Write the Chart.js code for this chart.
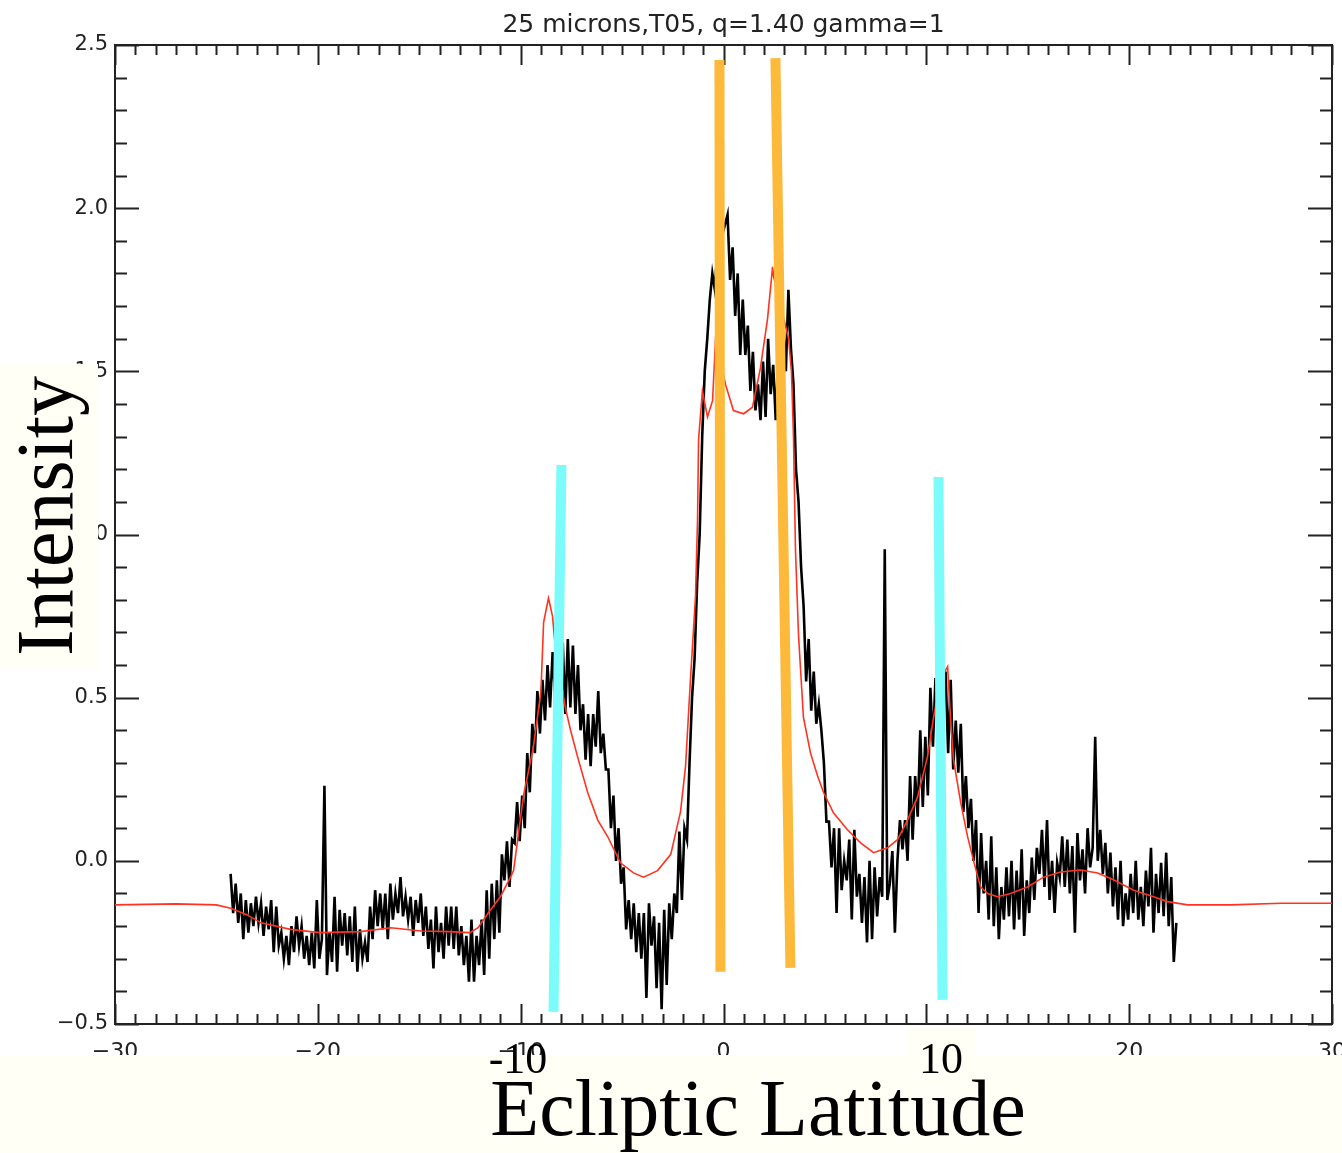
<!DOCTYPE html>
<html>
<head>
<meta charset="utf-8">
<script src="https://cdn.jsdelivr.net/npm/chart.js@4.4.1/dist/chart.umd.min.js"></script>
<style>
  html, body { margin: 0; padding: 0; background: #fff; }
  #wrap { width: 1342px; height: 1153px; }
</style>
</head>
<body>
<div id="wrap"><canvas id="grafico" width="1342" height="1153"></canvas></div>
<script>
// title and axis texts
const plotTitle = '25 microns,T05, q=1.40 gamma=1';
const xTickValues = [-30, -20, -10, 0, 10, 20, 30];
const yTickValues = [-0.5, 0.0, 0.5, 1.0, 1.5, 2.0, 2.5];

// observed profile (black), sampled every 0.125 deg starting at -24.3
const obsStart = -24.3;
const obsStep = 0.125;
const obsValues = [
  -0.04, -0.16, -0.07, -0.19, -0.10, -0.24, -0.12, -0.22, -0.13, -0.20,
  -0.11, -0.19, -0.13, -0.23, -0.14, -0.21, -0.12, -0.28, -0.14, -0.26,
  -0.22, -0.30, -0.23, -0.32, -0.20, -0.28, -0.17, -0.26, -0.20, -0.30,
  -0.23, -0.32, -0.22, -0.33, -0.12, -0.30, -0.24, 0.23, -0.35, -0.22,
  -0.31, -0.11, -0.34, -0.15, -0.26, -0.16, -0.29, -0.17, -0.31, -0.14,
  -0.34, -0.21, -0.30, -0.25, -0.31, -0.14, -0.24, -0.09, -0.20, -0.10,
  -0.21, -0.10, -0.24, -0.07, -0.18, -0.10, -0.16, -0.05, -0.17, -0.11,
  -0.18, -0.11, -0.23, -0.12, -0.19, -0.10, -0.23, -0.14, -0.27, -0.18,
  -0.33, -0.14, -0.28, -0.19, -0.30, -0.14, -0.26, -0.14, -0.27, -0.14,
  -0.29, -0.20, -0.32, -0.23, -0.37, -0.18, -0.37, -0.23, -0.32, -0.18,
  -0.35, -0.09, -0.30, -0.07, -0.24, -0.06, -0.22, 0.02, -0.06, 0.06,
  -0.08, 0.065, 0.055, 0.18, 0.06, 0.20, 0.10, 0.33, 0.21, 0.42,
  0.33, 0.52, 0.39, 0.555, 0.43, 0.60, 0.47, 0.64, 0.50, 0.60,
  0.48, 0.67, 0.45, 0.68, 0.47, 0.66, 0.45, 0.60, 0.40, 0.48,
  0.31, 0.45, 0.29, 0.45, 0.35, 0.52, 0.33, 0.39, 0.28, 0.28,
  0.10, 0.20, 0.00, 0.10, -0.07, -0.02, -0.21, -0.12, -0.24, -0.13,
  -0.28, -0.16, -0.30, -0.16, -0.42, -0.13, -0.26, -0.17, -0.39, -0.19,
  -0.455, -0.15, -0.38, -0.13, -0.24, -0.10, -0.16, 0.09, -0.12, 0.10,
  0.065, 0.30, 0.50, 0.62, 0.85, 1.00, 1.30, 1.50, 1.60, 1.72,
  1.80, 1.75, 1.88, 1.82, 1.92, 1.95, 1.98, 1.78, 1.88, 1.67,
  1.80, 1.55, 1.72, 1.55, 1.64, 1.44, 1.56, 1.38, 1.46, 1.35,
  1.53, 1.36, 1.60, 1.43, 1.52, 1.35, 1.55, 1.45, 1.62, 1.50,
  1.75, 1.57, 1.46, 1.20, 1.10, 0.90, 0.78, 0.55, 0.68, 0.46,
  0.58, 0.42, 0.48, 0.40, 0.30, 0.12, 0.12, -0.02, 0.10, -0.16,
  0.10, -0.09, 0.00, -0.06, 0.065, -0.18, 0.095, -0.11, -0.04, -0.19,
  -0.05, -0.25, 0.00, -0.24, -0.02, -0.17, -0.05, -0.11, 0.955, -0.12,
  -0.07, 0.03, -0.22, 0.00, 0.125, 0.035, 0.125, 0.00, 0.26, 0.065,
  0.26, 0.135, 0.40, 0.165, 0.38, 0.20, 0.53, 0.35, 0.56, 0.45,
  0.60, 0.50, 0.58, 0.33, 0.555, 0.28, 0.43, 0.27, 0.42, 0.15,
  0.26, 0.10, 0.19, 0.00, 0.125, -0.16, 0.085, -0.10, 0.00, -0.18,
  0.075, -0.20, -0.02, -0.24, -0.08, -0.18, -0.02, -0.17, 0.00, -0.21,
  -0.03, -0.18, 0.035, -0.23, -0.06, -0.16, 0.01, -0.12, 0.04, -0.04,
  0.095, -0.08, 0.125, -0.12, 0.00, -0.16, -0.006, -0.05, 0.075, -0.08,
  0.065, -0.10, 0.045, -0.22, 0.085, -0.06, 0.035, -0.10, 0.10, -0.02,
  0.04, 0.38, 0.00, 0.095, -0.04, 0.055, -0.10, 0.025, -0.14, -0.02,
  -0.18, 0.00, -0.20, -0.10, -0.18, -0.04, -0.16, 0.00, -0.18, -0.08,
  -0.20, -0.03, -0.14, 0.04, -0.22, -0.04, -0.16, -0.006, -0.17, 0.025,
  -0.20, -0.05, -0.31, -0.19
];

// model profile (red)
const modelLat = [
  -30, -27, -25, -24.3, -23.5, -22.8, -21.35, -19.9, -17.9, -16.4,
  -14.9, -13.5, -12.5, -12.1, -11.6, -11.0, -10.5, -10.35, -9.86, -9.37,
  -9.0, -8.87, -8.63, -8.43, -8.3, -7.8, -7.54, -7.2, -6.7, -6.2,
  -5.7, -5.08, -4.44, -3.94, -3.25, -2.6, -2.12, -1.87, -1.63, -1.38,
  -1.28, -1.23, -1.04, -0.79, -0.54, -0.39, 0.1, 0.49, 0.99, 1.43,
  1.82, 2.17, 2.42, 2.47, 3.21, 3.35, 3.45, 3.55, 3.7, 3.94,
  4.29, 4.64, 4.93, 5.42, 6.11, 6.76, 7.4, 8.09, 8.58, 9.07,
  9.57, 10.06, 10.36, 10.7, 11.05, 11.19, 11.34, 11.69, 12.03, 12.33,
  12.67, 13.02, 13.51, 14.15, 14.99, 15.78, 16.62, 17.6, 18.44, 19.23,
  20.22, 21.2, 21.89, 22.88, 25, 27.5, 30
];
const modelValues = [
  -0.135, -0.132, -0.135, -0.145, -0.165, -0.19, -0.21, -0.22, -0.217, -0.205,
  -0.215, -0.217, -0.22, -0.205, -0.16, -0.11, -0.05, -0.03, 0.20, 0.35,
  0.52, 0.73, 0.805, 0.75, 0.66, 0.47, 0.40, 0.32, 0.21, 0.125,
  0.073, -0.006, -0.037, -0.05, -0.03, 0.02, 0.15, 0.29, 0.555, 0.81,
  1.045, 1.29, 1.44, 1.36, 1.41, 1.60, 1.46, 1.38, 1.37, 1.39,
  1.51, 1.66, 1.82, 1.79, 1.60, 1.50, 1.30, 0.95, 0.69, 0.44,
  0.33, 0.26, 0.21, 0.147, 0.095, 0.055, 0.025, 0.04, 0.065, 0.125,
  0.196, 0.32, 0.44, 0.555, 0.595, 0.44, 0.31, 0.18, 0.075, 0.00,
  -0.08, -0.10, -0.11, -0.10, -0.08, -0.05, -0.034, -0.028, -0.037, -0.058,
  -0.09, -0.11, -0.125, -0.135, -0.135, -0.13, -0.13
];

// marker bars drawn over the plot (end points: lat, intensity)
const cyanLeftLat = [-7.99, -8.38];
const cyanLeftVal = [1.213, -0.463];
const cyanRightLat = [10.6, 10.8];
const cyanRightVal = [1.176, -0.426];
const orangeLeftLat = [-0.2, -0.15];
const orangeLeftVal = [2.454, -0.34];
const orangeRightLat = [2.56, 3.3];
const orangeRightVal = [2.46, -0.328];

function pares(xs, ys) {
  return xs.map((x, i) => ({ x: x, y: ys[i] }));
}

const obsData = obsValues.map((v, i) => ({ x: obsStart + i * obsStep, y: v }));

function minus(v) {
  return v < 0 ? '\u2212' + Math.abs(v) : String(v);
}

// frame with inward ticks on all four sides
const marco = {
  id: 'marco',
  beforeDatasetsDraw(chart) {
    const { ctx, chartArea: a, scales: { x, y } } = chart;
    ctx.save();
    ctx.strokeStyle = '#222';
    ctx.lineWidth = 2;
    ctx.strokeRect(a.left, a.top, a.right - a.left, a.bottom - a.top);
    ctx.beginPath();
    for (let v = -30; v <= 30; v++) {
      const px = Math.round(x.getPixelForValue(v)) + 0.5;
      const len = v % 10 === 0 ? 20 : 10;
      ctx.moveTo(px, a.bottom); ctx.lineTo(px, a.bottom - len);
      ctx.moveTo(px, a.top); ctx.lineTo(px, a.top + len);
    }
    for (let k = -5; k <= 25; k++) {
      const py = Math.round(y.getPixelForValue(k / 10)) + 0.5;
      const len = k % 5 === 0 ? 24 : 12;
      ctx.moveTo(a.left, py); ctx.lineTo(a.left + len, py);
      ctx.moveTo(a.right, py); ctx.lineTo(a.right - len, py);
    }
    ctx.stroke();
    ctx.font = '25px "DejaVu Sans"';
    ctx.fillStyle = '#222';
    ctx.textAlign = 'center';
    ctx.textBaseline = 'alphabetic';
    ctx.fillText(plotTitle, (a.left + a.right) / 2, 32);
    ctx.restore();
  }
};

// slide overlays: cream boxes and big serif labels
const rotulos = {
  id: 'rotulos',
  afterDraw(chart) {
    const ctx = chart.ctx;
    ctx.save();
    ctx.fillStyle = '#fffff5';
    ctx.fillRect(0, 1055, 1342, 98);
    ctx.fillRect(908, 1027, 67, 28);
    ctx.fillRect(0, 364, 98, 304);
    ctx.fillStyle = '#000';
    ctx.textAlign = 'center';
    ctx.textBaseline = 'alphabetic';
    ctx.font = '44px "Liberation Serif"';
    ctx.fillText('-10', 518, 1073);
    ctx.fillText('10', 941, 1073);
    ctx.font = '80px "Liberation Serif"';
    ctx.fillText('Ecliptic Latitude', 758, 1135);
    ctx.translate(72, 516);
    ctx.rotate(-Math.PI / 2);
    ctx.fillText('Intensity', 0, 0);
    ctx.restore();
  }
};

function barra(data, color) {
  return {
    data: data,
    borderColor: color,
    borderWidth: 10,
    borderCapStyle: 'butt',
    pointRadius: 0,
    order: 0
  };
}

new Chart(document.getElementById('grafico').getContext('2d'), {
  type: 'line',
  data: {
    datasets: [
      barra(pares(cyanLeftLat, cyanLeftVal), '#7cfbfb'),
      barra(pares(cyanRightLat, cyanRightVal), '#7cfbfb'),
      barra(pares(orangeLeftLat, orangeLeftVal), '#fdb93a'),
      barra(pares(orangeRightLat, orangeRightVal), '#fdb93a'),
      {
        label: 'modelo',
        data: pares(modelLat, modelValues),
        borderColor: '#ff3320',
        borderWidth: 1.6,
        pointRadius: 0,
        order: 1
      },
      {
        label: 'observado',
        data: obsData,
        borderColor: '#000',
        borderWidth: 2.6,
        borderJoinStyle: 'miter',
        pointRadius: 0,
        order: 2
      }
    ]
  },
  options: {
    responsive: false,
    animation: false,
    events: [],
    layout: {
      autoPadding: false,
      padding: { top: 45, right: 10, bottom: 89, left: 0 }
    },
    plugins: {
      legend: { display: false },
      tooltip: { enabled: false },
      title: { display: false }
    },
    scales: {
      x: {
        type: 'linear',
        min: -30,
        max: 30,
        afterFit(scale) {
          scale.height = 40;
          scale.paddingLeft = 0;
          scale.paddingRight = 0;
        },
        afterBuildTicks(scale) { scale.ticks = xTickValues.map(v => ({ value: v })); },
        grid: { display: false, drawTicks: false },
        border: { display: false },
        ticks: {
          padding: 15,
          maxRotation: 0,
          autoSkip: false,
          color: '#222',
          font: { family: 'DejaVu Sans', size: 22 },
          callback: v => minus(v)
        }
      },
      y: {
        type: 'linear',
        min: -0.5,
        max: 2.5,
        afterFit(scale) {
          scale.width = 115;
          scale.paddingTop = 0;
          scale.paddingBottom = 0;
        },
        afterBuildTicks(scale) { scale.ticks = yTickValues.map(v => ({ value: v })); },
        grid: { display: false, drawTicks: false },
        border: { display: false },
        ticks: {
          padding: 7,
          autoSkip: false,
          color: '#222',
          font: { family: 'DejaVu Sans', size: 21 },
          callback: v => (v < 0 ? '\u2212' : '') + Math.abs(v).toFixed(1)
        }
      }
    }
  },
  plugins: [marco, rotulos]
});
</script>
</body>
</html>
